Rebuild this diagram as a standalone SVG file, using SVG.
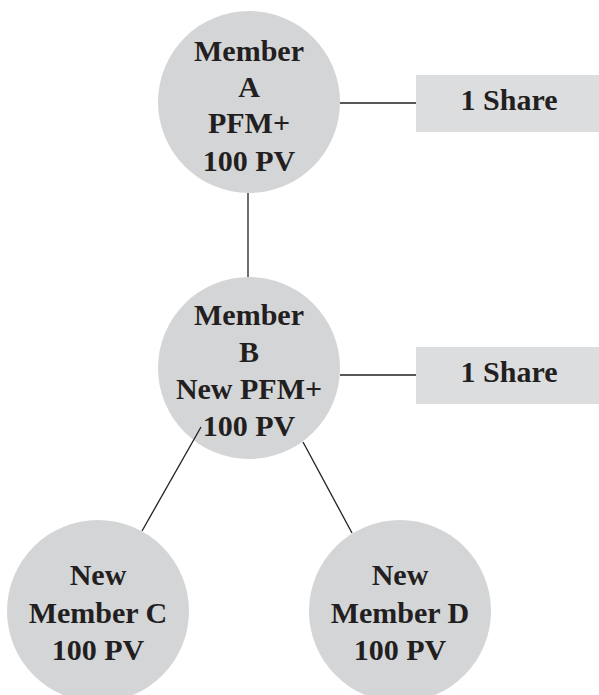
<svg xmlns="http://www.w3.org/2000/svg" width="599" height="695" viewBox="0 0 599 695">
<style>
.node{fill:#d4d5d7}
.box{fill:#dcdddf}
.t{font-family:"Liberation Serif","Times New Roman",serif;font-weight:bold;font-size:30px;fill:#231f20;text-anchor:middle}
.c{stroke:#231f20;stroke-width:1.3;fill:none}
</style>
<rect width="599" height="695" fill="#ffffff"/>
<g id="memberA">
<circle class="node" cx="249" cy="102" r="91"/>
<text class="t" x="249" y="61">Member</text>
<text class="t" x="249" y="97">A</text>
<text class="t" x="249" y="133">PFM+</text>
<text class="t" x="249" y="171">100 PV</text>
</g>
<g id="shareA">
<rect class="box" x="416" y="75" width="183" height="57"/>
<text class="t" x="509" y="110">1 Share</text>
</g>
<g id="memberB">
<circle class="node" cx="249" cy="368" r="91"/>
<text class="t" x="249" y="325">Member</text>
<text class="t" x="249" y="362">B</text>
<text class="t" x="249" y="399">New PFM+</text>
<text class="t" x="249" y="436">100 PV</text>
</g>
<g id="shareB">
<rect class="box" x="416" y="347" width="183" height="57"/>
<text class="t" x="509" y="382">1 Share</text>
</g>
<g id="memberC">
<circle class="node" cx="98" cy="611" r="91"/>
<text class="t" x="98" y="585">New</text>
<text class="t" x="98" y="623">Member C</text>
<text class="t" x="98" y="660">100 PV</text>
</g>
<g id="memberD">
<circle class="node" cx="400" cy="611" r="91"/>
<text class="t" x="400" y="585">New</text>
<text class="t" x="400" y="623">Member D</text>
<text class="t" x="400" y="660">100 PV</text>
</g>
<g id="connectors">
<line class="c" x1="248" y1="193" x2="248" y2="277"/>
<line class="c" x1="340" y1="103" x2="416" y2="103"/>
<line class="c" x1="340" y1="375" x2="416" y2="375"/>
<line class="c" x1="201" y1="427" x2="142" y2="531"/>
<line class="c" x1="303" y1="442" x2="352" y2="533"/>
</g>
</svg>
